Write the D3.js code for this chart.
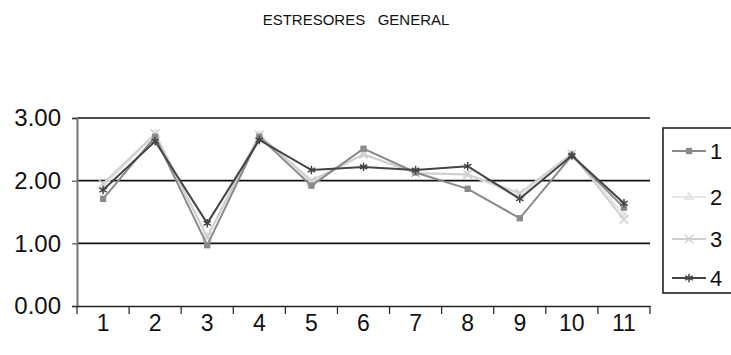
<!DOCTYPE html>
<html>
<head>
<meta charset="utf-8">
<script src="https://cdn.jsdelivr.net/npm/d3@7"></script>
<style>
  html, body { margin: 0; padding: 0; background: #fff; }
  svg { display: block; }
  text { font-family: "Liberation Sans", Arial, sans-serif; fill: #111; }
</style>
</head>
<body>
<svg id="chart" width="731" height="355"></svg>
<script>
// Categories along the x axis
const categories = ["1", "2", "3", "4", "5", "6", "7", "8", "9", "10", "11"];

// Series values (one array per group)
const serie1 = [1.71, 2.70, 0.97, 2.70, 1.92, 2.51, 2.13, 1.87, 1.40, 2.40, 1.57];
const serie2 = [1.90, 2.74, 1.10, 2.72, 1.97, 2.42, 2.13, 2.10, 1.75, 2.42, 1.45];
const serie3 = [1.95, 2.75, 1.10, 2.73, 2.00, 2.42, 2.12, 2.10, 1.80, 2.43, 1.38];
const serie4 = [1.85, 2.63, 1.32, 2.65, 2.17, 2.22, 2.17, 2.23, 1.71, 2.40, 1.64];

const seriesNames = ["1", "2", "3", "4"];
const yTicks = [0, 1, 2, 3];
const title = "ESTRESORES   GENERAL";

const series = [
  { name: seriesNames[0], values: serie1, color: "#8a8a8a", symbol: "square" },
  { name: seriesNames[1], values: serie2, color: "#e6e6e6", symbol: "triangle" },
  { name: seriesNames[2], values: serie3, color: "#cfcfcf", symbol: "cross" },
  { name: seriesNames[3], values: serie4, color: "#444444", symbol: "star" }
];

const svg = d3.select("#chart");

const x0 = 77, x1 = 650, yTop = 118, yBottom = 306;

const x = d3.scaleBand().domain(categories).range([x0, x1]);
const y = d3.scaleLinear().domain([0, 3]).range([yBottom, yTop]);

// Title
svg.append("text")
  .attr("x", 356).attr("y", 25)
  .attr("text-anchor", "middle")
  .style("font-size", "15px")
  .style("white-space", "pre")
  .attr("xml:space", "preserve")
  .text(title);

// Horizontal gridlines
svg.append("g")
  .selectAll("line")
  .data(yTicks.filter(d => d > 0))
  .join("line")
  .attr("x1", x0).attr("x2", x1)
  .attr("y1", d => y(d)).attr("y2", d => y(d))
  .attr("stroke", "#111").attr("stroke-width", 1.6);

// Y axis
const yAxis = svg.append("g")
  .attr("transform", `translate(${x0},0)`)
  .call(d3.axisLeft(y).tickValues(yTicks).tickFormat(d3.format(".2f")).tickSize(5).tickPadding(11));
yAxis.select(".domain").attr("stroke", "#777").attr("stroke-width", 2);
yAxis.selectAll(".tick line").attr("stroke", "#333");
yAxis.selectAll(".tick text").style("font-size", "24px").attr("fill", "#111");

// X axis
const xAxis = svg.append("g")
  .attr("transform", `translate(0,${yBottom})`)
  .call(d3.axisBottom(x).tickSize(0).tickPadding(9));
xAxis.select(".domain").attr("stroke", "#222").attr("stroke-width", 1.6);
xAxis.selectAll(".tick text").style("font-size", "23px").attr("fill", "#111");
// Tick marks between categories
xAxis.append("g")
  .selectAll("line")
  .data(d3.range(categories.length + 1))
  .join("line")
  .attr("x1", i => x0 + i * x.step()).attr("x2", i => x0 + i * x.step())
  .attr("y1", 0).attr("y2", 8)
  .attr("stroke", "#222").attr("stroke-width", 1.2);

const cx = (d, i) => x(categories[i]) + x.bandwidth() / 2;

const line = d3.line()
  .x((d, i) => cx(d, i))
  .y(d => y(d));

const symbolTypes = {
  square: d3.symbolSquare,
  triangle: d3.symbolTriangle,
  cross: d3.symbolX,
  star: d3.symbolAsterisk
};

function drawMarker(g, s, px, py) {
  g.append("path")
    .attr("transform", `translate(${px},${py})`)
    .attr("d", d3.symbol().type(symbolTypes[s.symbol]).size(s.symbol === "square" ? 40 : 50)())
    .attr("fill", s.symbol === "square" || s.symbol === "triangle" ? s.color : "none")
    .attr("stroke", s.color)
    .attr("stroke-width", s.symbol === "square" || s.symbol === "triangle" ? 0 : 1.5);
}

// Draw series: lightest first, darkest last
const order = [1, 2, 0, 3];
order.forEach(k => {
  const s = series[k];
  const g = svg.append("g");
  g.append("path")
    .datum(s.values)
    .attr("d", line)
    .attr("fill", "none")
    .attr("stroke", s.color)
    .attr("stroke-width", 2);
  s.values.forEach((v, i) => drawMarker(g, s, cx(v, i), y(v)));
});

// Legend
const lg = svg.append("g");
lg.append("rect")
  .attr("x", 663).attr("y", 128)
  .attr("width", 80).attr("height", 165)
  .attr("fill", "#fff").attr("stroke", "#222").attr("stroke-width", 1.6);
const legendY = [151, 197, 239, 278];
series.forEach((s, k) => {
  lg.append("line")
    .attr("x1", 672).attr("x2", 706)
    .attr("y1", legendY[k]).attr("y2", legendY[k])
    .attr("stroke", s.color).attr("stroke-width", 2);
  drawMarker(lg, s, 689, legendY[k]);
  lg.append("text")
    .attr("x", 710).attr("y", legendY[k] + 8)
    .style("font-size", "22px")
    .text(s.name);
});
</script>
</body>
</html>
